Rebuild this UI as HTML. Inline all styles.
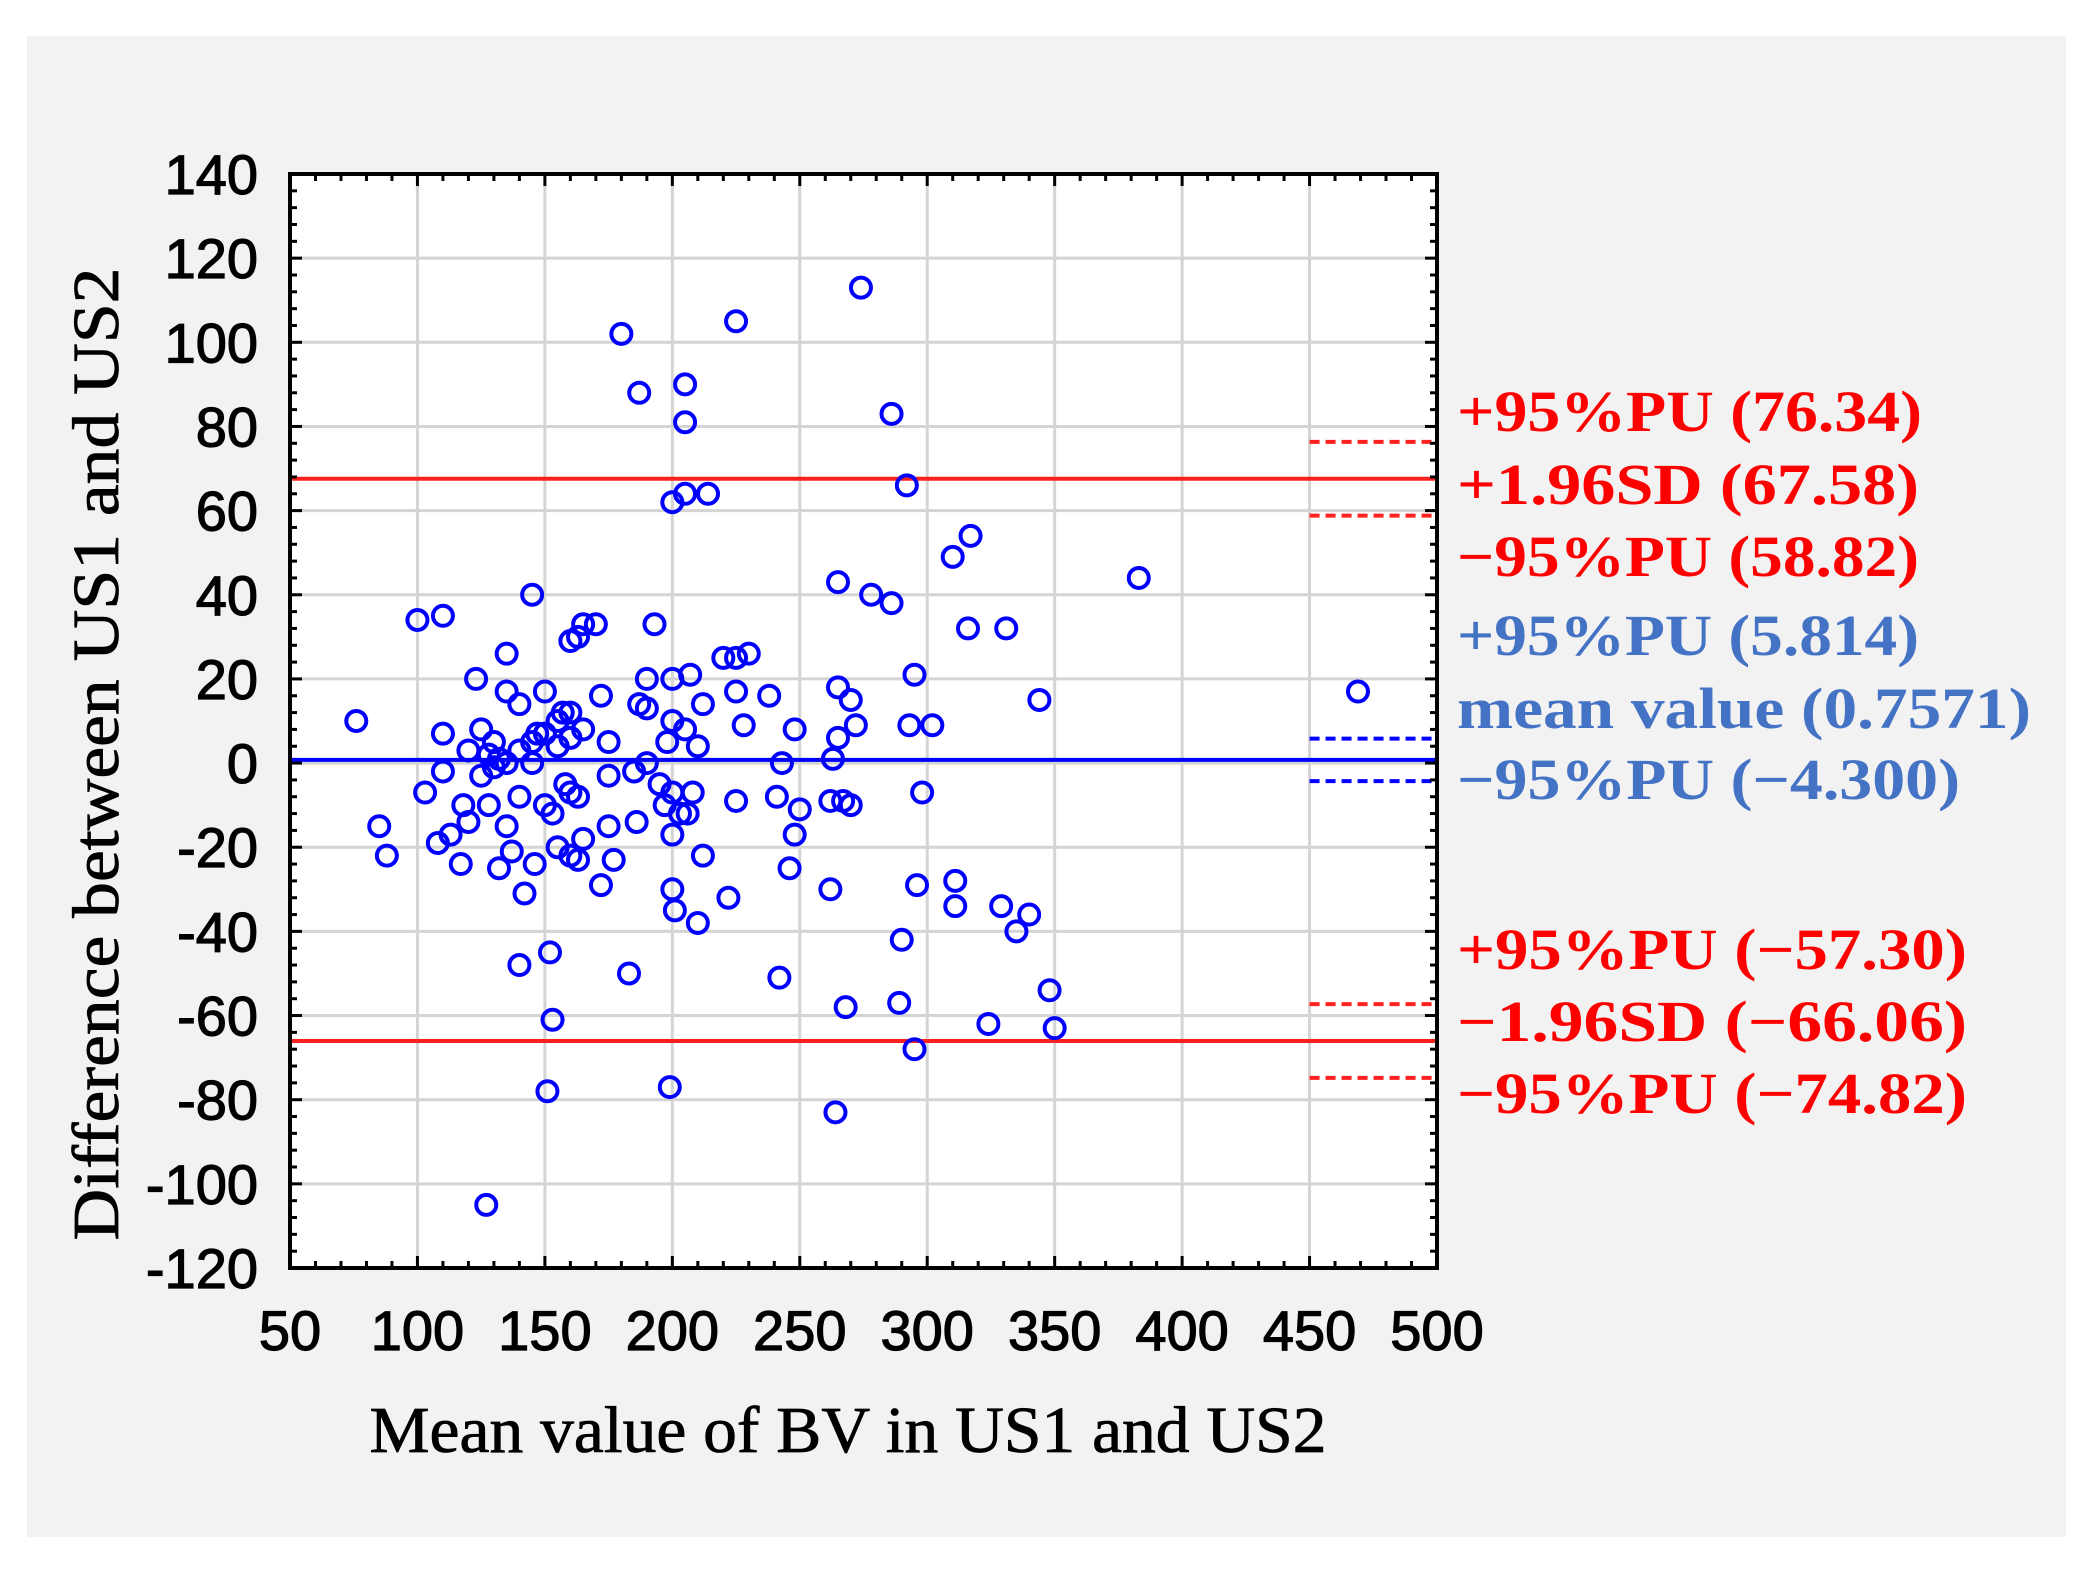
<!DOCTYPE html>
<html><head><meta charset="utf-8"><style>
html,body{margin:0;padding:0;background:#fff;}
svg{display:block;}
</style></head><body>
<svg id="chart" width="2096" height="1574" xmlns="http://www.w3.org/2000/svg">
<rect x="27" y="36" width="2039" height="1501" fill="#f2f2f2"/>
<rect x="290" y="174" width="1147" height="1094" fill="#fff"/>
<g id="grid"></g>
<g id="lines"></g>
<g id="points"></g>
<rect x="290" y="174" width="1147" height="1094" fill="none" stroke="#000" stroke-width="4"/>
<g id="ticks"></g>
<g id="labels"></g>
<text x="848" y="1452" text-anchor="middle" font-family="Liberation Serif, serif" font-size="66" textLength="957" lengthAdjust="spacingAndGlyphs" fill="#000" stroke="#000" stroke-width="0.8">Mean value of BV in US1 and US2</text>
<text transform="translate(118,754) rotate(-90)" text-anchor="middle" font-family="Liberation Serif, serif" font-size="66" textLength="973" lengthAdjust="spacingAndGlyphs" fill="#000" stroke="#000" stroke-width="0.8">Difference between US1 and US2</text>
</svg>
<script>
const xTicks=[50,100,150,200,250,300,350,400,450,500];
const yTicks=[140,120,100,80,60,40,20,0,-20,-40,-60,-80,-100,-120];
const ptX=[274,225,180,187,205,205,286,200,205,214,292,383,317,310,265,278,286,316,331,145,100,110,165,170,160,163,193,135,123,190,200,207,220,225,230,238,225,265,270,295,344,469,76,110,125,140,135,150,160,155,172,190,187,200,205,212,228,248,272,265,293,302,210,198,175,165,130,120,128,132,135,140,145,150,155,160,145,130,125,110,103,118,128,140,150,158,163,175,185,190,195,200,208,203,197,206,225,241,243,250,262,267,270,298,263,85,88,108,113,117,120,135,137,132,142,146,155,160,163,165,172,175,177,186,200,212,200,201,210,222,248,246,262,296,311,311,329,340,335,290,140,152,183,242,348,289,268,153,324,350,295,151,199,264,127,147,157,153,160];
const ptY=[113,105,102,88,90,81,83,62,64,64,66,44,54,49,43,40,38,32,32,40,34,35,33,33,29,30,33,26,20,20,20,21,25,25,26,16,17,18,15,21,15,17,10,7,8,14,17,17,12,10,16,13,14,10,8,14,9,8,9,6,9,9,4,5,5,8,5,3,2,1,0,3,5,7,4,6,0,-1,-3,-2,-7,-10,-10,-8,-10,-5,-8,-3,-2,0,-5,-7,-7,-12,-10,-12,-9,-8,0,-11,-9,-9,-10,-7,1,-15,-22,-19,-17,-24,-14,-15,-21,-25,-31,-24,-20,-22,-23,-18,-29,-15,-23,-14,-17,-22,-30,-35,-38,-32,-17,-25,-30,-29,-28,-34,-34,-36,-40,-42,-48,-45,-50,-51,-54,-57,-58,-61,-62,-63,-68,-78,-77,-83,-105,7,12,-12,-7];
const limitVals=[67.58,-66.06];
const meanVal=[0.7571];
const redCI=[76.34,58.82,-57.30,-74.82];
const blueCI=[5.814,-4.300];
const labelTexts=["+95%PU (76.34)","+1.96SD (67.58)","\u221295%PU (58.82)","+95%PU (5.814)","mean value (0.7571)","\u221295%PU (\u22124.300)","+95%PU (\u221257.30)","\u22121.96SD (\u221266.06)","\u221295%PU (\u221274.82)"];
const labelColors=["red","red","red","blue","blue","blue","red","red","red"];

const X0=290,X1=1437,Y0=174,Y1=1268;
const sx=v=>X0+(v-50)/450*(X1-X0);
const sy=v=>Y0+(140-v)/260*(Y1-Y0);
const NS="http://www.w3.org/2000/svg";
function mk(t,a,p){const e=document.createElementNS(NS,t);for(const k in a)e.setAttribute(k,a[k]);p.appendChild(e);return e;}
const grid=document.getElementById('grid'),lines=document.getElementById('lines'),pts=document.getElementById('points'),ticks=document.getElementById('ticks'),labels=document.getElementById('labels');
xTicks.forEach(v=>{
 const g=mk('line',{x1:sx(v),x2:sx(v),y1:Y0,y2:Y1,stroke:'#d4d4d4','stroke-width':3},grid);
 
 
 const t=mk('text',{x:sx(v),y:1350,'text-anchor':'middle','font-family':'Liberation Sans, sans-serif','font-size':56,fill:'#000',stroke:'#000','stroke-width':1.2},labels);
 t.textContent=v;
 
 
});
yTicks.forEach(v=>{
 const g=mk('line',{x1:X0,x2:X1,y1:sy(v),y2:sy(v),stroke:'#d4d4d4','stroke-width':3},grid);
 
 
 const t=mk('text',{x:258,y:sy(v)+20,'text-anchor':'end','font-family':'Liberation Sans, sans-serif','font-size':56,fill:'#000',stroke:'#000','stroke-width':1.2},labels);
 t.textContent=v;
 
 
});
for(let v=50;v<=500;v+=10){const big=v%50===0;
 const a=mk('line',{x1:sx(v),x2:sx(v),y1:Y1,y2:Y1-(big?12:7),stroke:'#000','stroke-width':3},ticks);
 
 
 const b=mk('line',{x1:sx(v),x2:sx(v),y1:Y0,y2:Y0+(big?12:7),stroke:'#000','stroke-width':3},ticks);
 
 }
for(let v=-120;v<=140;v+=4){const big=v%20===0;
 const a=mk('line',{x1:X0,x2:X0+(big?12:7),y1:sy(v),y2:sy(v),stroke:'#000','stroke-width':3},ticks);
 
 
 const b=mk('line',{x1:X1,x2:X1-(big?12:7),y1:sy(v),y2:sy(v),stroke:'#000','stroke-width':3},ticks);
 
 }
limitVals.forEach(v=>{const l=mk('line',{x1:X0,x2:X1,y1:sy(v),y2:sy(v),stroke:'#ff2020','stroke-width':4},lines);
 
 });
meanVal.forEach(v=>{const l=mk('line',{x1:X0,x2:X1,y1:sy(v),y2:sy(v),stroke:'#0000ff','stroke-width':4},lines);
 
 });
redCI.forEach(v=>{const l=mk('line',{x1:sx(450),x2:X1,y1:sy(v),y2:sy(v),stroke:'#ff2020','stroke-width':4,'stroke-dasharray':'10 6'},lines);
 
 });
blueCI.forEach(v=>{const l=mk('line',{x1:sx(450),x2:X1,y1:sy(v),y2:sy(v),stroke:'#0000ff','stroke-width':4,'stroke-dasharray':'10 6'},lines);
 
 });
ptX.forEach((x,i)=>{const c=mk('circle',{cx:sx(x),cy:sy(ptY[i]),r:10,fill:'none',stroke:'#0000ff','stroke-width':4},pts);
 
 });
const ly=[411,484,556,635,708,779,949,1021,1093];
const lw=[465,462,462,462,574,503,510,510,510];
labelTexts.forEach((s,i)=>{const t=mk('text',{x:1457,y:ly[i]+20,'font-family':'Liberation Serif, serif','font-weight':'bold','font-size':58,fill:labelColors[i]==='red'?'#ff0000':'#4472c4',textLength:lw[i],lengthAdjust:'spacingAndGlyphs'},labels);
 t.textContent=s;
 
 });
</script>
</body></html>
